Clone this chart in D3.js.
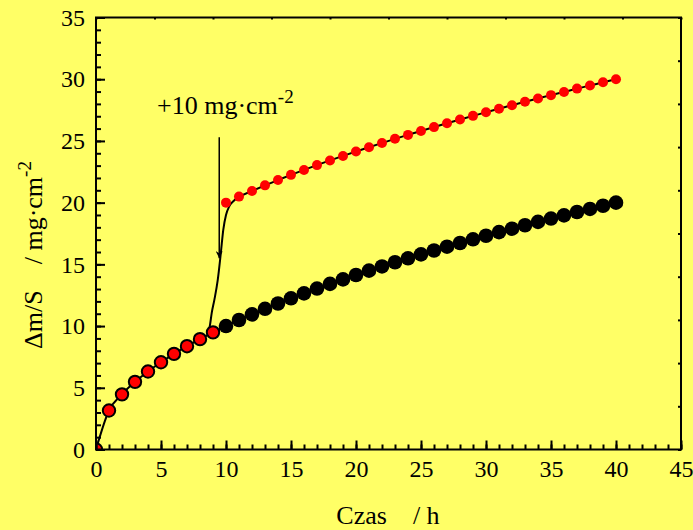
<!DOCTYPE html>
<html>
<head>
  <meta charset="utf-8">
  <title>Przyrost masy</title>
  <style>
    body { margin: 0; background: #ffff66; }
    svg { display: block; font-family: "Liberation Serif", "Times New Roman", serif; }
    .axis path, .axis line { stroke: #000; stroke-width: 2; }
    .axis text { font-size: 24px; fill: #000; font-family: "Liberation Serif", serif; }
  </style>
</head>
<body>
<svg width="693" height="530"></svg>
<script src="https://cdnjs.cloudflare.com/ajax/libs/d3/7.8.5/d3.min.js"></script>
<script>
// czas / h
const czas = [0,1,2,3,4,5,6,7,8,9,10,11,12,13,14,15,16,17,18,19,20,
  21,22,23,24,25,26,27,28,29,30,31,32,33,34,35,36,37,38,39,40];
// przyrost masy bez dodatku / mg cm-2
const masa = [0,3.16,4.47,5.48,6.32,7.07,7.75,8.37,8.94,9.49,10.0,
  10.49,10.95,11.40,11.83,12.25,12.65,13.04,13.42,13.78,14.14,
  14.49,14.83,15.17,15.49,15.81,16.12,16.43,16.73,17.03,17.32,
  17.61,17.89,18.17,18.44,18.71,18.97,19.24,19.49,19.75,20.0];
// po dodaniu 10 mg cm-2
const czasPo = [10,11,12,13,14,15,16,17,18,19,20,21,22,23,24,25,
  26,27,28,29,30,31,32,33,34,35,36,37,38,39,40];
const masaPo = [20.0,20.49,20.95,21.40,21.83,22.25,22.65,23.04,23.42,23.78,24.14,
  24.49,24.83,25.17,25.49,25.81,26.12,26.43,26.73,27.03,27.32,
  27.61,27.89,28.17,28.44,28.71,28.97,29.24,29.49,29.75,30.0];
// skok krzywej przy dodaniu
const czasSkok = [8.6,8.77,8.9,9.1,9.36,9.6,9.79,10.0,10.25,10.6,11];
const masaSkok = [9.27,10.1,11.05,12.1,13.7,15.9,17.8,19.0,19.7,20.15,20.49];

const xTicks = [0,5,10,15,20,25,30,35,40,45];
const yTicks = [0,5,10,15,20,25,30,35];

const svg = d3.select('svg');
const margin = {left: 96, right: 12, top: 17.5, bottom: 80.5};
const W = 693 - margin.left - margin.right;
const H = 530 - margin.top - margin.bottom;

svg.append('rect').attr('width', 693).attr('height', 530).attr('fill', '#ffff66');

const g = svg.append('g').attr('transform', 'translate(' + margin.left + ',' + margin.top + ')');

const x = d3.scaleLinear().domain([0, 45]).range([0, W]);
const y = d3.scaleLinear().domain([0, 35]).range([H, 0]);

g.append('clipPath').attr('id', 'clip')
  .append('rect').attr('width', W).attr('height', H);

const plot = g.append('g').attr('clip-path', 'url(#clip)');

const line = d3.line().x(d => x(d[0])).y(d => y(d[1])).curve(d3.curveMonotoneX);

// linie
plot.append('path').datum(d3.zip(czas, masa)).attr('d', line)
  .attr('fill', 'none').attr('stroke', '#000').attr('stroke-width', 2);
plot.append('path').datum(d3.zip(czasSkok, masaSkok)).attr('d', line)
  .attr('fill', 'none').attr('stroke', '#000').attr('stroke-width', 2);
plot.append('path').datum(d3.zip(czasPo.slice(1), masaPo.slice(1))).attr('d', line)
  .attr('fill', 'none').attr('stroke', '#000').attr('stroke-width', 2);

// punkty
plot.selectAll('.pA').data(d3.zip(czas, masa)).enter().append('circle')
  .attr('cx', d => x(d[0])).attr('cy', d => y(d[1]))
  .attr('r', d => d[0] < 10 ? 6.2 : 7.3)
  .attr('fill', d => d[0] < 10 ? '#ff0000' : '#000')
  .attr('stroke', '#000').attr('stroke-width', d => d[0] < 10 ? 2 : 0);

plot.selectAll('.pB').data(d3.zip(czasPo, masaPo)).enter().append('circle')
  .attr('cx', d => x(d[0])).attr('cy', d => y(d[1]))
  .attr('r', 5).attr('fill', '#ff0000');

// osie
g.append('g').attr('class', 'axis').attr('transform', 'translate(0,' + H + ')')
  .call(d3.axisBottom(x).tickValues(xTicks).tickSizeInner(-9).tickSizeOuter(0).tickPadding(10.5));
g.append('g').attr('class', 'axis').attr('transform', 'translate(0,' + H + ')')
  .call(d3.axisBottom(x).tickValues(d3.range(0, 46, 1)).tickSize(-5).tickFormat(''));
g.append('g').attr('class', 'axis')
  .call(d3.axisLeft(y).tickValues(yTicks).tickSizeInner(-9).tickSizeOuter(0).tickPadding(11));
g.append('g').attr('class', 'axis')
  .call(d3.axisLeft(y).tickValues(d3.range(0, 36, 1)).tickSize(-5).tickFormat(''));
g.append('g').attr('class', 'axis')
  .call(d3.axisTop(x).tickValues(d3.range(0, 45.1, 4.5)).tickSize(-2).tickFormat(''));
g.append('g').attr('class', 'axis').attr('transform', 'translate(' + W + ',0)')
  .call(d3.axisRight(y).tickValues(d3.range(0, 35.1, 3.5)).tickSize(-3).tickFormat(''));
g.selectAll('.axis path.domain').remove();
g.append('rect').attr('width', W).attr('height', H)
  .attr('fill', 'none').attr('stroke', '#000').attr('stroke-width', 2);

// tytuly osi
svg.append('text').attr('x', 388).attr('y', 524).attr('text-anchor', 'middle')
  .attr('font-size', 26).style('white-space', 'pre').text('Czas    / h');

const yt = svg.append('text').attr('transform', 'translate(42,255) rotate(-90)')
  .attr('text-anchor', 'middle').attr('font-size', 26).style('white-space', 'pre');
yt.append('tspan').text('\u0394m/S    / mg\u00b7cm');
yt.append('tspan').attr('dy', -11).attr('font-size', 19).text('-2');

// adnotacja
const ann = svg.append('text').attr('x', 157).attr('y', 114).attr('font-size', 26);
ann.append('tspan').text('+10 mg\u00b7cm');
ann.append('tspan').attr('dy', -11).attr('font-size', 19).text('-2');

svg.append('defs').append('marker').attr('id', 'arr')
  .attr('viewBox', '0 0 10 10').attr('refX', 10).attr('refY', 5)
  .attr('markerWidth', 16).attr('markerHeight', 7).attr('markerUnits', 'userSpaceOnUse')
  .attr('orient', 'auto')
  .append('path').attr('d', 'M0,0 L10,5 L0,10 L3,5 Z').attr('fill', '#000');

g.append('line')
  .attr('x1', x(9.48)).attr('x2', x(9.48))
  .attr('y1', y(25.3)).attr('y2', y(15.5))
  .attr('stroke', '#000').attr('stroke-width', 1.5)
  .attr('marker-end', 'url(#arr)');
</script>
</body>
</html>
